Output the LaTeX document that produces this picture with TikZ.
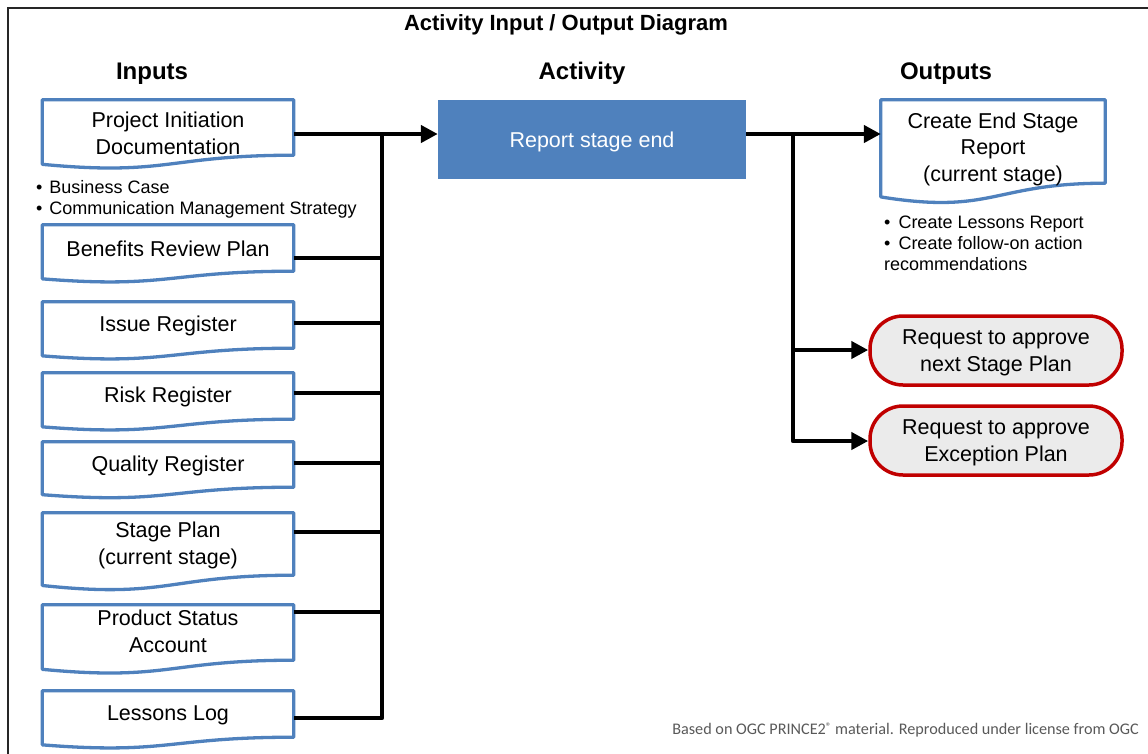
\documentclass[tikz,border=0pt]{standalone}
\usepackage{fontspec}
\setmainfont{Liberation Sans}
\newfontfamily\footfont{Carlito}
\usetikzlibrary{calc,arrows.meta,backgrounds}
\definecolor{docblue}{HTML}{4F81BD}
\definecolor{reqred}{HTML}{C00000}
\definecolor{reqfill}{HTML}{EBEBEB}
\definecolor{footgray}{HTML}{595959}
\newcommand\docpath[1]{%
  \draw[docline] (#1.north west) -- (#1.north east) -- (#1.south east)
    .. controls (#1.south) and ($(#1.north)!1.381!(#1.south)$) ..
    ($(#1.north west)!1.1646!(#1.south west)$) -- cycle;}
\newcommand\lowered[2]{\raisebox{-#1}[\height][\depth]{#2}}
\begin{document}
\begin{tikzpicture}[x=1pt,y=-1pt,
  boxfont/.style={font=\fontsize{21.5}{26.5}\selectfont},
  docbox/.style={boxfont, align=center, minimum width=251pt, inner sep=0pt, text=black},
  docline/.style={draw=docblue, line width=3.3pt, fill=white, line join=round},
  actbox/.style={boxfont, fill=docblue, text=white, minimum width=308pt, minimum height=79pt, inner sep=0pt},
  reqbox/.style={boxfont, align=center, draw=reqred, line width=3.5pt, fill=reqfill, rounded corners=33pt, minimum width=252pt, minimum height=69pt, inner sep=0pt},
  header/.style={font=\fontsize{24}{28}\selectfont\bfseries, anchor=base},
  bullets/.style={font=\fontsize{18}{21}\selectfont, align=left, inner sep=0pt},
  conn/.style={line width=4.5pt, line join=round},
  arr/.style={-{Triangle[length=17pt,width=17pt]}}
]
\useasboundingbox (0,0) rectangle (1148,753);
\draw[line width=2.5pt, black!85] (8,8) rectangle (1180,790);

% titles
\node[font=\fontsize{22}{26}\selectfont\bfseries] (title) at (566,25) {Activity Input / Output Diagram};
\node[header] (hin) at (152,79) {Inputs};
\node[header] (hact) at (582,79) {Activity};
\node[header] (hout) at (946,79) {Outputs};

% input documents
\node[docbox, minimum height=55pt] (pid) at (168,127.5) {\lowered{8pt}{\begin{tabular}{@{}c@{}}Project Initiation\\Documentation\end{tabular}}};
\node[docbox, minimum height=46pt] (brp) at (168,248) {\lowered{1pt}{Benefits Review Plan}};
\node[docbox, minimum height=46pt] (ir) at (168,325) {\lowered{1pt}{Issue Register}};
\node[docbox, minimum height=46pt] (rr) at (168,396) {\lowered{1pt}{Risk Register}};
\node[docbox, minimum height=45pt] (qr) at (168,464.5) {\lowered{1pt}{Quality Register}};
\node[docbox, minimum height=62pt] (sp) at (168,544) {\lowered{1.5pt}{\begin{tabular}{@{}c@{}}Stage Plan\\(current stage)\end{tabular}}};
\node[docbox, minimum height=55pt] (psa) at (168,632.5) {\lowered{1pt}{\begin{tabular}{@{}c@{}}Product Status\\Account\end{tabular}}};
\node[docbox, minimum height=46pt] (ll) at (168,714) {\lowered{1.5pt}{Lessons Log}};

\node[bullets, anchor=west] (pidnotes) at (36,199) {\textbullet\hspace{7pt}Business Case\\\textbullet\hspace{7pt}Communication Management Strategy};

% activity
\node[actbox] (act) at (592,139.5) {\lowered{2pt}{Report stage end}};

% outputs
\node[docbox, minimum width=224pt, minimum height=83pt] (esr) at (993,141.5) {\lowered{8pt}{\begin{tabular}{@{}c@{}}Create End Stage\\Report\\(current stage)\end{tabular}}};
\node[bullets, anchor=west] (esrnotes) at (884,243) {\textbullet\hspace{8pt}Create Lessons Report\\\textbullet\hspace{8pt}Create follow-on action\\recommendations};
\node[reqbox] (req1) at (996,350.5) {\lowered{2pt}{\begin{tabular}{@{}c@{}}Request to approve\\next Stage Plan\end{tabular}}};
\node[reqbox] (req2) at (996,440.5) {\lowered{2pt}{\begin{tabular}{@{}c@{}}Request to approve\\Exception Plan\end{tabular}}};

\node[font=\footfont\fontsize{16.2}{19}\selectfont, text=footgray, anchor=east, inner sep=0pt] (foot) at (1139,730) {Based on OGC PRINCE2\raisebox{0.6ex}{\fontsize{11}{12}\selectfont\textregistered} material. Reproduced under license from OGC};

\begin{scope}[on background layer]
  \foreach \n in {pid,brp,ir,rr,qr,sp,psa,ll,esr} {\docpath{\n}}
\end{scope}

% input connectors
\coordinate (jin) at (382,134);
\coordinate (b2) at (382,258);
\coordinate (b3) at (382,323);
\coordinate (b4) at (382,393);
\coordinate (b5) at (382,463);
\coordinate (b6) at (382,532);
\coordinate (b7) at (382,612);
\coordinate (b8) at (382,718);
\draw[conn, arr] (pid.east |- jin) -- (act.west |- jin);
\draw[conn] (jin) -- (b8) -- (b8 -| ll.east);
\foreach \c/\n in {b2/brp, b3/ir, b4/rr, b5/qr, b6/sp, b7/psa} {\draw[conn] (\c -| \n.east) -- (\c);}

% output connectors
\coordinate (jout) at (793,134);
\coordinate (o1) at (793,350);
\coordinate (o2) at (793,441);
\draw[conn, arr] (act.east |- jout) -- (esr.west |- jout);
\draw[conn, arr] (jout) -- (o2) -- (o2 -| req2.west);
\draw[conn, arr] (o1) -- (o1 -| req1.west);
\end{tikzpicture}
\end{document}
